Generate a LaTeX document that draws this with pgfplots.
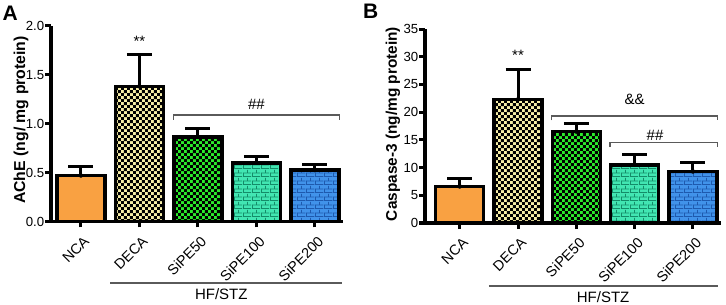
\documentclass[border=0pt]{standalone}
\usepackage{fontspec}
\setmainfont{Liberation Sans}
\usepackage{pgfplots}
\pgfplotsset{compat=1.18}
\usetikzlibrary{patterns.meta}

\definecolor{ncaorange}{HTML}{F9A142}
\definecolor{decayellow}{HTML}{F6EDA6}
\definecolor{sipegreen}{HTML}{2BEA2B}
\definecolor{sipeteal}{HTML}{42E6B2}
\definecolor{sipetealdark}{HTML}{148C68}
\definecolor{sipeblue}{HTML}{4193EA}
\definecolor{sipebluedark}{HTML}{1E5AAE}
\definecolor{brk}{HTML}{5A5A5A}

\tikzdeclarepattern{
  name=chk, type=uncolored,
  bounding box={(0,0) and (6.4bp,6.4bp)},
  tile size={(6.4bp,6.4bp)},
  code={\fill (0,0) rectangle (3.2bp,3.2bp); \fill (3.2bp,3.2bp) rectangle (6.4bp,6.4bp);}
}
\tikzdeclarepattern{
  name=brick, type=uncolored,
  bounding box={(0,0) and (9bp,8bp)},
  tile size={(9bp,8bp)},
  code={
    \draw[line width=0.9bp] (0,0.45bp) -- (9bp,0.45bp);
    \draw[line width=0.9bp] (0,4.45bp) -- (9bp,4.45bp);
    \draw[line width=0.9bp] (0.45bp,0.45bp) -- (0.45bp,4.45bp);
    \draw[line width=0.9bp] (4.95bp,4.45bp) -- (4.95bp,8bp);
  }
}

\pgfplotsset{
  mybar/.style={ybar, bar width=48bp, bar shift=0pt, draw=black, line width=3.5bp},
  myerr/.style={only marks, mark=none, forget plot,
    error bars/.cd, y dir=plus, y explicit,
    error bar style={line width=3bp, black},
    error mark options={rotate=90, mark size=12.5bp, line width=3bp, black}},
  myaxis/.style={
    scale only axis, anchor=south west, clip=false,
    axis x line*=bottom, axis y line*=left,
    axis line style={line width=3.5bp, black},
    tick align=outside, major tick length=6bp,
    tick style={line width=3bp, black},
    xtick={0,1,2,3,4},
    xticklabels={NCA,DECA,SiPE50,SiPE100,SiPE200},
    xticklabel style={font=\fontsize{14.4bp}{16bp}\selectfont, xshift=2bp, yshift=-6bp, rotate=45, anchor=north east, inner sep=1bp},
    yticklabel style={font=\fontsize{13.2bp}{15bp}\selectfont, inner sep=0.6bp},
    /pgf/number format/assume math mode=true,
  },
}

\begin{document}
\begin{tikzpicture}
\useasboundingbox (0bp,0bp) rectangle (726bp,305bp);

% ---------------- Panel A ----------------
\begin{axis}[myaxis, at={(51bp,83.5bp)},
  width=292bp, height=195.8bp,
  xmin=-0.51, xmax=4.48, ymin=0, ymax=2.0,
  ytick={0,0.5,1,1.5,2},
  yticklabel style={/pgf/number format/.cd, fixed, fixed zerofill, precision=1},
]
\addplot[mybar, fill=ncaorange] coordinates {(0,0.47)};
\addplot[mybar, preaction={fill=decayellow}, pattern=chk, pattern color=black] coordinates {(1,1.38)};
\addplot[mybar, preaction={fill=sipegreen}, pattern=chk, pattern color=black] coordinates {(2,0.865)};
\addplot[mybar, preaction={fill=sipeteal}, pattern=brick, pattern color=sipetealdark] coordinates {(3,0.60)};
\addplot[mybar, preaction={fill=sipeblue}, pattern=brick, pattern color=sipebluedark] coordinates {(4,0.525)};
\addplot[myerr] coordinates {
  (0,0.47) +- (0,0.09)
  (1,1.38) +- (0,0.325)
  (2,0.865) +- (0,0.085)
  (3,0.60) +- (0,0.06)
  (4,0.525) +- (0,0.055)
};
\draw[brk, line width=1.3bp] (axis cs:1.58,1.04) |- (axis cs:4.42,1.087) -- (axis cs:4.42,1.04);
\node[font=\fontsize{15bp}{16bp}\selectfont] at (axis cs:3.0,1.2) {\#\#};
\node[font=\fontsize{15bp}{16bp}\selectfont] at (axis cs:1,1.84) {**};
\draw[brk, line width=1.3bp] ([yshift=-61.5bp]axis cs:0.5,0) -- ([yshift=-61.5bp]axis cs:4.46,0);
\node[font=\fontsize{15bp}{16bp}\selectfont] at ([yshift=-73bp]axis cs:2.4,0) {HF/STZ};
\end{axis}

% ---------------- Panel B ----------------
\begin{axis}[myaxis, at={(425bp,82bp)},
  width=295.9bp, height=194bp,
  xmin=-0.595, xmax=4.48, ymin=0, ymax=35,
  ytick={0,5,10,15,20,25,30,35},
]
\addplot[mybar, fill=ncaorange] coordinates {(0,6.6)};
\addplot[mybar, preaction={fill=decayellow}, pattern=chk, pattern color=black] coordinates {(1,22.3)};
\addplot[mybar, preaction={fill=sipegreen}, pattern=chk, pattern color=black] coordinates {(2,16.5)};
\addplot[mybar, preaction={fill=sipeteal}, pattern=brick, pattern color=sipetealdark] coordinates {(3,10.5)};
\addplot[mybar, preaction={fill=sipeblue}, pattern=brick, pattern color=sipebluedark] coordinates {(4,9.3)};
\addplot[myerr] coordinates {
  (0,6.6) +- (0,1.4)
  (1,22.3) +- (0,5.4)
  (2,16.5) +- (0,1.4)
  (3,10.5) +- (0,1.8)
  (4,9.3) +- (0,1.7)
};
\draw[brk, line width=1.3bp] (axis cs:1.58,18.5) |- (axis cs:4.42,19.3) -- (axis cs:4.42,18.5);
\node[font=\fontsize{15bp}{16bp}\selectfont] at (axis cs:3.0,22.3) {\&\&};
\draw[brk, line width=1.3bp] (axis cs:2.58,13.7) |- (axis cs:4.42,14.5) -- (axis cs:4.42,13.7);
\node[font=\fontsize{15bp}{16bp}\selectfont] at (axis cs:3.35,15.8) {\#\#};
\node[font=\fontsize{15bp}{16bp}\selectfont] at (axis cs:1,30.3) {**};
\draw[brk, line width=1.3bp] ([yshift=-63bp]axis cs:0.5,0) -- ([yshift=-63bp]axis cs:4.43,0);
\node[font=\fontsize{15bp}{16bp}\selectfont] at ([yshift=-74bp]axis cs:2.46,0) {HF/STZ};
\end{axis}

% axis titles and panel letters
\node[rotate=90, font=\bfseries\fontsize{15.8bp}{18bp}\selectfont] at (21bp,185bp) {AChE (ng/ mg protein)};
\node[rotate=90, font=\bfseries\fontsize{15.4bp}{18bp}\selectfont] at (393bp,181bp) {Caspase-3 (ng/mg protein)};
\node[anchor=base west, inner sep=0pt, font=\bfseries\fontsize{21bp}{22bp}\selectfont] at (2.5bp,284.5bp) {A};
\node[anchor=base west, inner sep=0pt, font=\bfseries\fontsize{21bp}{22bp}\selectfont] at (363bp,286bp) {B};
\end{tikzpicture}
\end{document}
